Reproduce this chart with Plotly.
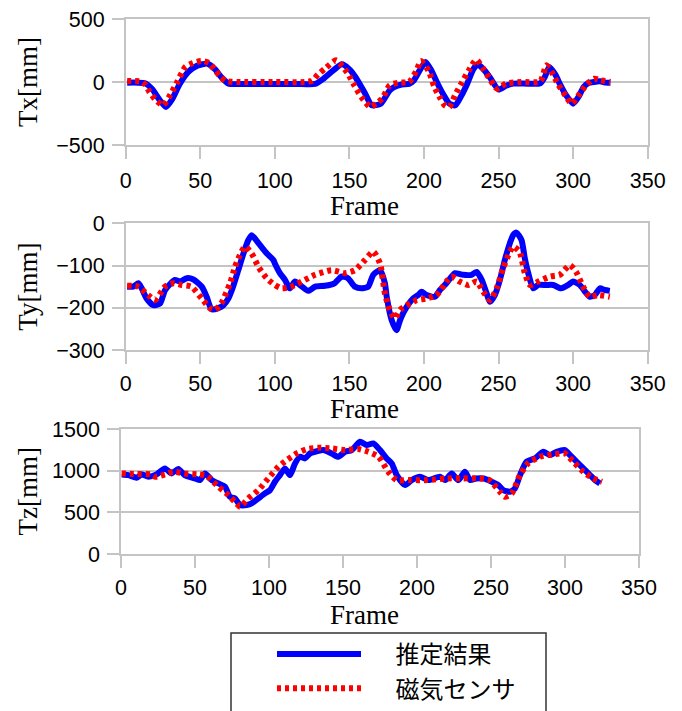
import plotly.graph_objects as go

# ---------------- data ----------------
tx_est_frame = [1, 8, 13, 18, 22, 27, 31, 36, 42, 48, 55, 60, 64, 69, 80, 100, 115, 127, 133, 139,
                145, 150, 154, 160, 165, 171, 177, 180, 185, 190, 193, 197, 201, 205, 209, 213, 217,
                221, 225, 229, 233, 236, 240, 244, 250, 255, 260, 270, 278, 281, 284, 288, 291, 295,
                300, 304, 307, 310, 314, 318, 322, 325]
tx_est_val = [-5, -5, -10, -60, -130, -198, -140, -20, 80, 130, 145, 100, 40, -13, -15, -15, -15, -15, 30, 90,
              140, 100, 40, -80, -185, -172, -66, -40, -20, -15, 10, 90, 159, 90, -10, -100, -172,
              -185, -110, -13, 100, 140, 100, 40, -60, -30, -13, -13, -10, 40, 119, 60, -13, -100,
              -172, -110, -40, -10, 0, 5, -5, -5]

tx_mag_frame = [1, 5, 10, 13, 16, 20, 25, 29, 34, 40, 45, 51, 56, 60, 63, 67, 75, 100, 120, 125, 129,
                134, 141, 145, 149, 153, 158, 164, 168, 172, 177, 183, 190, 195, 198, 203, 207, 211,
                214, 217, 221, 225, 230, 235, 240, 244, 249, 255, 265, 278, 282, 286, 290, 295, 299,
                304, 309, 314, 318, 325]
tx_mag_val = [8, 8, 5, -20, -80, -140, -185, -120, -13, 119, 150, 167, 150, 92, 50, 8, 0, 0, 0, 10, 60,
              110, 172, 130, 66, -20, -119, -198, -170, -132, -26, -5, 0, 92, 167, 90, -40, -130,
              -185, -198, -100, -13, 90, 177, 100, 26, -53, -13, 0, 5, 132, 70, -20, -110, -172,
              -100, -20, 26, 15, 0]

ty_est_frame = [1, 5, 8.5, 10.7, 14, 18.5, 23, 26.4, 33, 36.4, 41, 45.4, 51, 54.3, 57.6, 62, 65.5, 68.8,
                72, 75.5, 79, 82.2, 84.4, 89, 94.5, 99, 100, 103.4, 106.8, 110, 113.5, 116.8, 122.4,
                127, 133.6, 140, 144.8, 149, 153.7, 158, 162.6, 166, 170.5, 173.8, 175, 178.3, 181.6,
                184, 187.2, 192.8, 196, 198.4, 201.7, 207.3, 210.7, 215, 218.5, 220.7, 226.3, 231.9,
                235.3, 238.7, 242, 244.2, 247.5, 250.9, 254.2, 257.6, 259.8, 262, 265.4, 267.6, 269.9,
                273.2, 276.6, 282, 286.6, 292, 296.7, 300, 304.5, 308, 311.2, 314.5, 318, 321.3, 324.6]
ty_est_val = [-150, -150, -142, -154, -178, -194, -190, -158, -134, -138, -130, -133, -150, -174, -204,
              -201, -194, -178, -150, -111, -71, -40, -28, -47, -71, -87, -95, -118, -134, -154, -138,
              -146, -160, -150, -148, -142, -126, -130, -150, -154, -150, -122, -111, -142, -174, -229,
              -253, -229, -205, -178, -170, -162, -170, -174, -158, -142, -126, -118, -122, -122, -115,
              -134, -166, -186, -170, -134, -87, -47, -28, -22, -40, -83, -118, -154, -146, -146, -146,
              -154, -146, -138, -146, -162, -174, -170, -154, -158, -160]

ty_mag_frame = [1, 8.5, 15, 19.7, 26.4, 32, 37.5, 44, 51, 56.5, 60, 64, 70, 73.3, 76.6, 80, 84.4, 89,
                94.5, 100, 104.6, 111, 118, 127, 138, 147, 153.7, 160.4, 166, 170.5, 173.8, 177, 180.4,
                184, 188.5, 195, 201.7, 208.4, 215, 218.5, 224, 229.7, 235.3, 239.8, 244.2, 248.7, 253,
                257.6, 259.8, 264, 267.6, 271, 276.6, 284.5, 291, 297.8, 302, 306.7, 311.2, 316.8, 324.6]
ty_mag_val = [-148, -150, -170, -182, -150, -142, -146, -150, -178, -201, -205, -190, -142, -103, -75,
              -55, -71, -103, -130, -146, -154, -150, -138, -122, -111, -118, -111, -87, -67, -95, -166,
              -205, -225, -205, -194, -182, -178, -170, -138, -126, -138, -146, -138, -162, -182, -154,
              -107, -67, -55, -67, -118, -146, -138, -126, -122, -99, -115, -150, -174, -170, -174]

tz_est_frame = [0.5, 5, 10.6, 14, 18.5, 24, 29.7, 34, 38.7, 43, 50, 53.4, 56.8, 61.3, 65.8, 70.3, 73.6,
                77, 80.4, 85, 88.3, 92.8, 97.3, 100.7, 104, 107.4, 110.8, 114.2, 117.6, 121, 124.3,
                127.7, 131, 136.7, 142.3, 146.8, 151.4, 155.9, 161.5, 166, 170.5, 175, 179.5, 182.9,
                186.3, 192, 196.4, 202, 207.7, 215.5, 219, 223.4, 227.9, 232.4, 235.8, 240, 244.8,
                250.5, 255, 258.3, 262.8, 266.2, 269.6, 274, 279.7, 285.3, 289.9, 294.4, 300, 303.4,
                307.9, 312.4, 316.9, 320.3, 323.6]
tz_est_val = [955, 947, 915, 955, 927, 955, 1027, 967, 1019, 947, 907, 887, 967, 887, 847, 807, 687,
              667, 587, 587, 607, 667, 727, 767, 867, 947, 1027, 947, 1087, 1167, 1147,
              1207, 1227, 1247, 1207, 1167, 1227, 1247, 1347, 1307, 1327, 1247, 1147, 1087,
              947, 827, 887, 927, 887, 927, 887, 967, 887, 987, 887, 907, 907,
              867, 827, 767, 747, 787, 947, 1107, 1147, 1227, 1187, 1227, 1247, 1187,
              1107, 1027, 947, 887, 847]

tz_mag_frame = [0.5, 10, 20, 23, 29.7, 35.4, 43, 52, 56.8, 60, 65.8, 72.5, 78, 80.4, 86, 92.8, 99.5,
                106.3, 112, 118.7, 125.5, 133.3, 142.3, 151.4, 160.4, 167, 174, 180.6, 186.3, 195, 207,
                220, 231, 242.3, 249, 256, 259.4, 264, 269.6, 275, 283, 292, 300, 305.6, 312.4, 319, 325]
tz_mag_val = [967, 960, 955, 927, 955, 987, 967, 955, 947, 907, 807, 707, 607, 567, 667, 767, 907,
              1047, 1127, 1207, 1259, 1275, 1267, 1247, 1259, 1227, 1167, 987, 887, 887, 887,
              907, 907, 907, 887, 747, 687, 727, 947, 1087, 1167, 1195, 1207, 1107, 987, 907, 867]

x_ticks = [0, 50, 100, 150, 200, 250, 300, 350]
names = ["推定結果", "磁気センサ"]
y_titles = ["Tx[mm]", "Ty[mm]", "Tz[mm]"]
x_title = "Frame"

# ---------------- figure ----------------
W, H = 682, 711
BLUE = "#0000ff"
RED = "#ff0000"
GRID = "#c4c4c4"
SANS = "Liberation Sans, Arial, sans-serif"
SERIF = "Liberation Serif, Times New Roman, serif"
CJK = "Noto Sans CJK JP"
LEGEND_PAD = "\u3000\u00a0"

fig = go.Figure()

panels = [
    (tx_est_frame, tx_est_val, tx_mag_frame, tx_mag_val, "x", "y"),
    (ty_est_frame, ty_est_val, ty_mag_frame, ty_mag_val, "x2", "y2"),
    (tz_est_frame, tz_est_val, tz_mag_frame, tz_mag_val, "x3", "y3"),
]
for i, (fe, ve, fm, vm, xa, ya) in enumerate(panels):
    fig.add_trace(go.Scatter(x=fe, y=ve, mode="lines", name=LEGEND_PAD + names[0], xaxis=xa, yaxis=ya,
                             line=dict(color=BLUE, width=6, shape="spline", smoothing=0.6),
                             showlegend=(i == 0), legendgroup="est"))
    fig.add_trace(go.Scatter(x=fm, y=vm, mode="lines", name=LEGEND_PAD + names[1], xaxis=xa, yaxis=ya,
                             line=dict(color=RED, width=6, dash="4px,4px", shape="spline", smoothing=0.6),
                             showlegend=(i == 0), legendgroup="mag"))


def px_x(p):
    return p / W


def px_y(p):
    return 1 - p / H


xdom = [(125.7, 647.7), (125.7, 647.7), (121, 639)]
ydom = [(19, 145), (223.3, 350), (429, 554)]
yranges = [[-500, 500], [-300, 0], [0, 1500]]
ydticks = [500, 100, 500]
x_standoff = [3, 1, 1]
frame_y = [206, 409, 615]

common_x = dict(range=[0, 350], tickvals=x_ticks, ticks="outside", ticklen=12, tickcolor=GRID,
                tickwidth=1.5, showgrid=False, zeroline=False, showline=True, linecolor=GRID,
                linewidth=1.5, mirror=True, tickfont=dict(family=SANS, size=21.5, color="black"),
                automargin=False)
common_y = dict(ticks="outside", ticklen=12, tickcolor=GRID, tickwidth=1.5, showgrid=True,
                gridcolor=GRID, gridwidth=1.5, zeroline=False, showline=True, linecolor=GRID,
                linewidth=1.5, mirror=True, tickfont=dict(family=SANS, size=21.5, color="black"),
                ticklabelstandoff=3, automargin=False)

layout = {}
for i in range(3):
    sx = "" if i == 0 else str(i + 1)
    layout["xaxis" + sx] = dict(common_x, domain=[px_x(xdom[i][0]), px_x(xdom[i][1])],
                                anchor="y" + sx, ticklabelstandoff=x_standoff[i])
    layout["yaxis" + sx] = dict(common_y, domain=[px_y(ydom[i][1]), px_y(ydom[i][0])],
                                anchor="x" + sx, range=yranges[i], dtick=ydticks[i])

annotations = []
for i in range(3):
    annotations.append(dict(text=x_title, x=px_x(364), y=px_y(frame_y[i]), xref="paper", yref="paper",
                            showarrow=False, xanchor="center", yanchor="middle",
                            font=dict(family=SERIF, size=27, color="black")))
    yc = (ydom[i][0] + ydom[i][1]) / 2
    annotations.append(dict(text=y_titles[i], x=px_x(28), y=px_y(yc), xref="paper", yref="paper",
                            showarrow=False, xanchor="center", yanchor="middle", textangle=-90,
                            font=dict(family=SERIF, size=27, color="black")))

# legend frame (decoration)
shapes = [dict(type="rect", xref="paper", yref="paper", x0=px_x(231), x1=px_x(546),
               y0=px_y(725), y1=px_y(633), line=dict(color="#333333", width=1.5),
               fillcolor="white", layer="below")]

fig.update_layout(
    width=W, height=H,
    margin=dict(l=0, r=0, t=0, b=0, autoexpand=False),
    paper_bgcolor="white", plot_bgcolor="white",
    annotations=annotations,
    shapes=shapes,
    legend=dict(x=px_x(272), y=0, xanchor="left", yanchor="bottom", borderwidth=0,
                bgcolor="rgba(0,0,0,0)",
                font=dict(family=CJK, size=24, color="black"), itemwidth=84,
                tracegroupgap=0),
    **layout,
)

fig.write_html("out.html", config={"displayModeBar": False},
               post_script="document.body.style.margin='0px';document.body.style.overflow='hidden';")
